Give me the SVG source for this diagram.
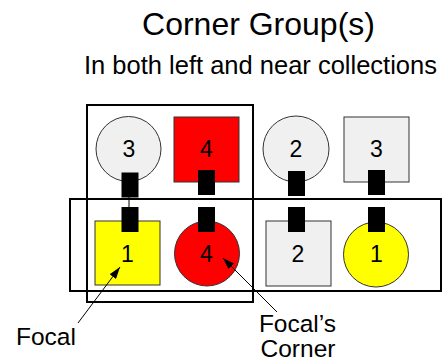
<svg xmlns="http://www.w3.org/2000/svg" width="443" height="362" viewBox="0 0 443 362">
<style>
text{font-family:"Liberation Sans",Arial,sans-serif;fill:#000;text-anchor:middle}
.t{font-size:32px}
.s{font-size:25.5px}
.n{font-size:23px}
.l{font-size:24.5px}
.gray{fill:#f0f0f0;stroke:#333;stroke-width:1}
.red{fill:#ff0000;stroke:#333;stroke-width:1}
.yel{fill:#ffff00;stroke:#333;stroke-width:1}
.tab{fill:#000}
.grp{fill:none;stroke:#000;stroke-width:2}
.conn{stroke:#000;stroke-width:1;fill:none}
</style>
<defs>
<marker id="ah" viewBox="0 0 12 8" refX="12" refY="4" markerWidth="12" markerHeight="8" markerUnits="userSpaceOnUse" orient="auto">
<path d="M0,0 L12,4 L0,8 Z" fill="#000"/>
</marker>
</defs>
<rect width="443" height="362" fill="#fff"/>
<text class="t" x="258.5" y="35">Corner Group(s)</text>
<text class="s" x="260.5" y="74">In both left and near collections</text>
<g id="groups">
<rect class="grp" x="87" y="105" width="166" height="197"/>
<rect class="grp" x="70" y="199" width="371" height="92"/>
</g>
<g id="n-top3">
<circle class="gray" cx="128.5" cy="149" r="32.5"/>
<text class="n" x="129" y="157">3</text>
<rect class="tab" x="121.5" y="172.5" width="17" height="25"/>
</g>
<g id="n-top4">
<rect class="red" x="174" y="117" width="65" height="65"/>
<text class="n" x="206.5" y="157">4</text>
<rect class="tab" x="198" y="170" width="17" height="25"/>
</g>
<g id="n-top2">
<circle class="gray" cx="296" cy="149" r="33"/>
<text class="n" x="296" y="157">2</text>
<rect class="tab" x="288" y="171" width="17" height="25"/>
</g>
<g id="n-top3b">
<rect class="gray" x="344" y="117" width="65" height="65"/>
<text class="n" x="376.5" y="157">3</text>
<rect class="tab" x="368" y="170" width="17" height="25"/>
</g>
<g id="n-bot1">
<rect class="yel" x="95" y="221" width="65" height="64"/>
<text class="n" x="127.5" y="261.5">1</text>
<rect class="tab" x="121.5" y="207" width="17" height="25"/>
</g>
<g id="n-bot4">
<circle class="red" cx="207" cy="253.5" r="32.5"/>
<text class="n" x="206.5" y="261.5">4</text>
<rect class="tab" x="198" y="207" width="17" height="25"/>
</g>
<g id="n-bot2">
<rect class="gray" x="266" y="221" width="65" height="65"/>
<text class="n" x="298" y="261.5">2</text>
<rect class="tab" x="288" y="207" width="17" height="25"/>
</g>
<g id="n-bot1b">
<circle class="yel" cx="376" cy="254.5" r="32.5"/>
<text class="n" x="376.5" y="261.5">1</text>
<rect class="tab" x="368" y="207" width="17" height="25"/>
</g>
<g id="connectors">
<line class="conn" x1="129" y1="197" x2="129" y2="207"/>
<line class="conn" x1="78" y1="323" x2="120" y2="267" marker-end="url(#ah)"/>
<line class="conn" x1="277" y1="312" x2="223" y2="258" marker-end="url(#ah)"/>
</g>
<g id="labels">
<text class="l" x="46" y="345">Focal</text>
<text class="l" x="297.5" y="332">Focal’s</text>
<text class="l" x="298" y="357">Corner</text>
</g>
</svg>
